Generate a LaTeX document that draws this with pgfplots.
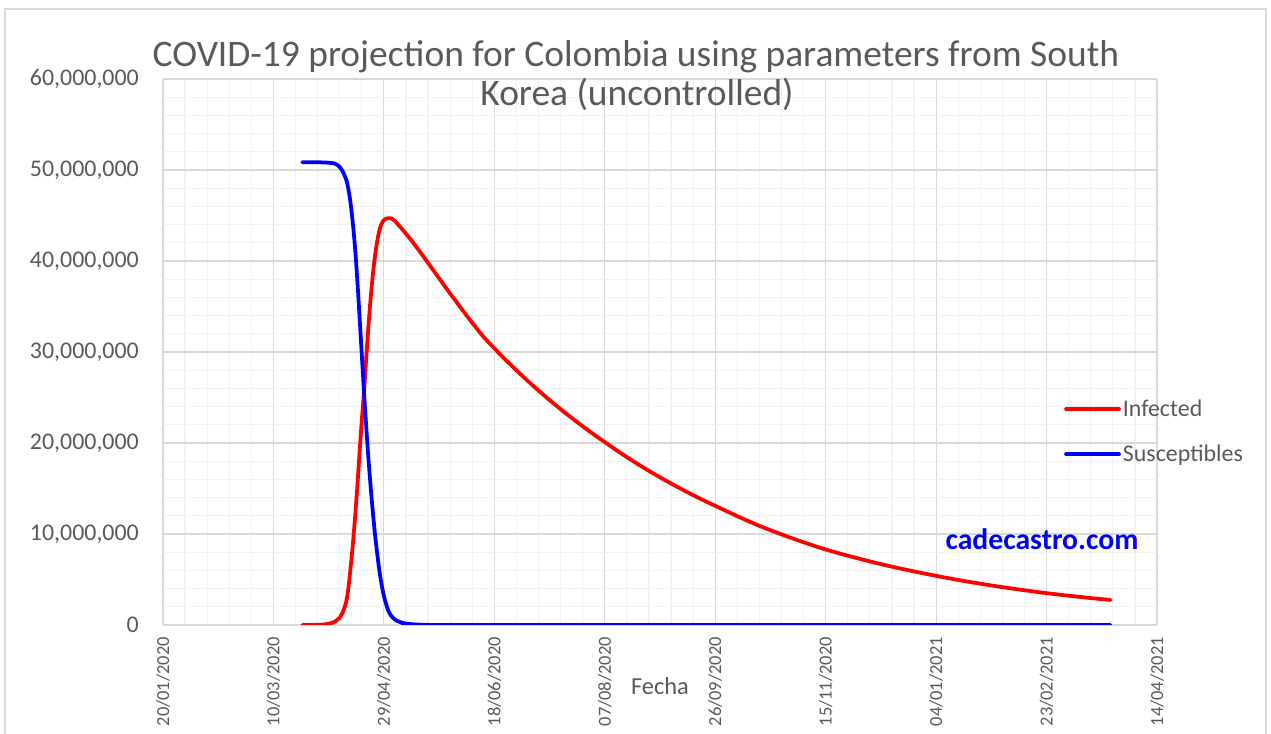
\documentclass[border=0pt]{standalone}
\usepackage{pgfplots}
\pgfplotsset{compat=1.18}
\usepackage{fontspec}
\setmainfont{Carlito}
\definecolor{txt}{HTML}{595959}
\definecolor{gmaj}{HTML}{D9D9D9}
\definecolor{gmin}{HTML}{F2F2F2}
\definecolor{cred}{HTML}{FF0000}
\definecolor{cblue}{HTML}{0000FF}
\begin{document}
\begin{tikzpicture}
\path[use as bounding box] (0,0) rectangle (1271bp,734bp);
\draw[gmaj, line width=1.5bp] (5bp,725bp) rectangle (1266bp,-20bp);
\begin{axis}[
  at={(163bp,109bp)}, anchor=south west,
  scale only axis, width=994bp, height=546bp,
  xmin=0, xmax=450, ymin=0, ymax=60000000,
  scaled y ticks=false, scaled x ticks=false,
  xtick={0,50,100,150,200,250,300,350,400,450},
  xticklabels={20/01/2020,10/03/2020,29/04/2020,18/06/2020,07/08/2020,26/09/2020,15/11/2020,04/01/2021,23/02/2021,14/04/2021},
  ytick={0,10000000,20000000,30000000,40000000,50000000,60000000},
  yticklabels={0,{10,000,000},{20,000,000},{30,000,000},{40,000,000},{50,000,000},{60,000,000}},
  minor x tick num=4, minor y tick num=4,
  grid=both,
  major grid style={gmaj, line width=1.2bp},
  minor grid style={gmin, line width=1.2bp},
  major tick length=0pt, minor tick length=0pt,
  axis line style={draw=none},
  tick label style={text=txt},
  yticklabel style={font=\fontsize{24}{24}\selectfont, inner sep=0pt, anchor=east, xshift=-24bp},
  xticklabel style={font=\fontsize{18.5}{18.5}\selectfont, inner sep=0pt, yshift=-12bp, rotate=90, anchor=east},
  xlabel={Fecha},
  xlabel style={at={(axis description cs:0.5,-0.1117)}, anchor=center, font=\fontsize{24.5}{24.5}\selectfont, text=txt},
  legend style={at={(axis description cs:0.9064,0.4139)}, anchor=north west, draw=none, fill=none, inner sep=0pt,
    font=\fontsize{24}{24}\selectfont, text=txt, row sep=25bp, column sep=1bp, nodes={inner sep=1bp}},
  legend cell align=left,
  legend image code/.code={\draw[#1, line width=3.75bp] (0bp,0bp) -- (53bp,0bp);},
]
\addplot[cred, line width=3.75bp, line cap=round, line join=round, smooth, tension=0.5] coordinates {
(63,0) (66,5000) (70,20000) (72,45000) (74,90000) (76,190000) (78,400000)
(80,800000) (81,1200000) (82,1800000) (83,2600000) (84,4200000) (85,6500000)
(86,9000000) (87,12000000) (88,15300000) (89,19000000) (90,22500000)
(91,25600000) (92,29300000) (93,32800000) (94,35900000) (95,38500000)
(96,40600000) (97,42200000) (98,43400000) (99,44100000) (100,44500000)
(101,44650000) (102,44700000) (103,44700000) (104,44600000) (105,44400000)
(107,43850000) (110,43000000) (113,42100000) (117,40800000) (121,39450000)
(125,38100000) (129,36750000) (133,35450000) (137,34150000) (141,32900000)
(145,31700000) (150,30400000) (155,29170000) (160,27990000) (165,26850000)
(170,25770000) (175,24720000) (180,23720000) (185,22760000) (190,21840000)
(195,20950000) (200,20100000) (205,19260000) (210,18450000) (215,17680000)
(220,16940000) (225,16230000) (230,15550000) (235,14900000) (240,14270000)
(245,13670000) (250,13100000) (260,11960000) (270,10900000) (280,9960000)
(290,9090000) (300,8300000) (310,7620000) (320,6990000) (330,6410000)
(340,5890000) (350,5400000) (360,4950000) (370,4540000) (380,4160000)
(390,3820000) (400,3500000) (410,3220000) (420,2960000) (429,2750000)
};
\addlegendentry{Infected}
\addplot[cblue, line width=3.75bp, line cap=round, line join=round, smooth, tension=0.5] coordinates {
(63,50850000) (70,50850000) (75,50800000) (77,50750000) (79,50550000)
(81,50000000) (83,48900000) (84,47800000) (85,46200000) (86,44000000)
(87,41300000) (88,37800000) (89,33800000) (90,29700000) (91,25600000)
(92,21800000) (93,18300000) (94,15200000) (95,12400000) (96,9900000)
(97,7800000) (98,5900000) (99,4400000) (100,3200000) (101,2300000)
(102,1600000) (103,1100000) (105,600000) (107,350000) (110,150000)
(115,50000) (120,20000) (130,0) (429,0)
};
\addlegendentry{Susceptibles}
\end{axis}
\node[anchor=base, text=txt, font=\fontsize{37.6}{37.6}\selectfont, inner sep=0pt] at (636bp,667bp) {COVID-19 projection for Colombia using parameters from South};
\node[anchor=base, text=txt, font=\fontsize{37.6}{37.6}\selectfont, inner sep=0pt] at (637bp,628bp) {Korea (uncontrolled)};
\node[anchor=center, text=cblue, font=\fontsize{29.8}{29.8}\selectfont\bfseries, inner sep=0pt] at (1042bp,195bp) {cadecastro.com};
\end{tikzpicture}
\end{document}
